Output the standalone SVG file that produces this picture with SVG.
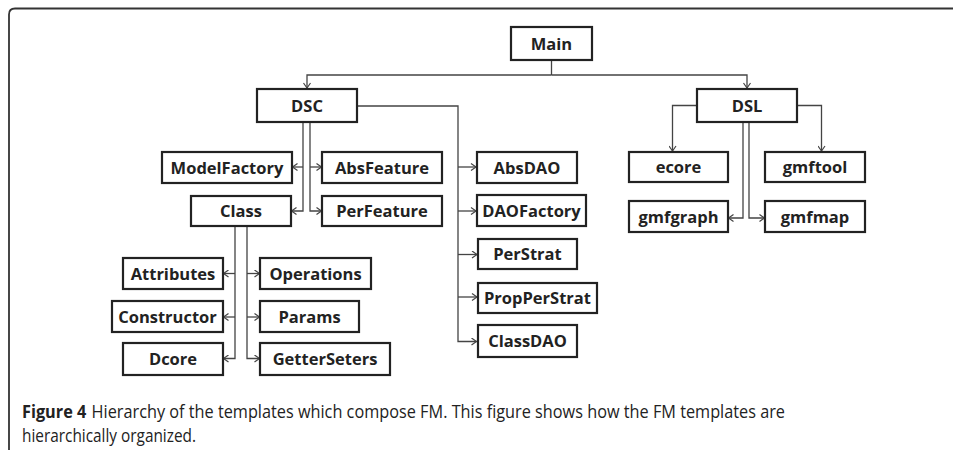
<svg xmlns="http://www.w3.org/2000/svg" width="953" height="450" viewBox="0 0 953 450">
  <style>
    .box rect { fill: #fff; stroke: #222; stroke-width: 2.2; }
    .box text { font-family: "Open Sans", "Liberation Sans", sans-serif; font-weight: 700; font-size: 16.5px; fill: #222; text-anchor: middle; }
    .wire { fill: none; stroke: #444; stroke-width: 1.3; }
    .cap { font-family: "Open Sans", "Liberation Sans", sans-serif; font-size: 18.5px; fill: #222; }
  </style>
  <defs>
    <marker id="arr" markerWidth="8" markerHeight="8" refX="6" refY="4" orient="auto" markerUnits="userSpaceOnUse">
      <path d="M1,0.5 L6,4 L1,7.5" fill="none" stroke="#444" stroke-width="1.2"/>
    </marker>
  </defs>
  <rect width="953" height="450" fill="#fff"/>
  <!-- frame -->
  <path d="M953,8.5 H15 Q9,8.5 9,14.5 V450" fill="none" stroke="#333" stroke-width="1.8"/>

  <g id="connectors" class="wire">
    <path d="M551.5,60 V75"/>
    <path d="M551.5,75 H307 V88" marker-end="url(#arr)"/>
    <path d="M551.5,75 H747 V88" marker-end="url(#arr)"/>
    <!-- DSC outer trunk -->
    <path d="M357,106 H458 V341.5 H476.5" marker-end="url(#arr)"/>
    <path d="M458,167 H476" marker-end="url(#arr)"/>
    <path d="M458,211 H476" marker-end="url(#arr)"/>
    <path d="M458,254.5 H477" marker-end="url(#arr)"/>
    <path d="M458,297 H477" marker-end="url(#arr)"/>
    <!-- DSC inner pair -->
    <path d="M303,122 V211 H291.5" marker-end="url(#arr)"/>
    <path d="M303,167 H292.5" marker-end="url(#arr)"/>
    <path d="M310,122 V211 H321.5" marker-end="url(#arr)"/>
    <path d="M310,167 H321.5" marker-end="url(#arr)"/>
    <!-- Class pair -->
    <path d="M235,226 V358.5 H223.5" marker-end="url(#arr)"/>
    <path d="M235,273.5 H223.5" marker-end="url(#arr)"/>
    <path d="M235,317 H223.5" marker-end="url(#arr)"/>
    <path d="M247,226 V358.5 H259.5" marker-end="url(#arr)"/>
    <path d="M247,273.5 H259.5" marker-end="url(#arr)"/>
    <path d="M247,317 H259.5" marker-end="url(#arr)"/>
    <!-- DSL branches -->
    <path d="M697,105.5 H672.5 V151" marker-end="url(#arr)"/>
    <path d="M797,105.5 H821.5 V151" marker-end="url(#arr)"/>
    <path d="M743,122 V218 H728.5" marker-end="url(#arr)"/>
    <path d="M749,122 V218 H764.5" marker-end="url(#arr)"/>
  </g>

  <g id="main" class="box"><rect x="511" y="27" width="81" height="33"/><text x="551.5" y="49.5">Main</text></g>
  <g id="dsc" class="box"><rect x="257" y="89" width="100" height="33"/><text x="307" y="111.5">DSC</text></g>
  <g id="dsl" class="box"><rect x="697" y="89" width="100" height="33"/><text x="747" y="111.5">DSL</text></g>

  <g id="modelfactory" class="box"><rect x="162" y="152" width="130" height="31"/><text x="227" y="173.5">ModelFactory</text></g>
  <g id="absfeature" class="box"><rect x="322" y="152" width="120" height="31"/><text x="382" y="173.5">AbsFeature</text></g>
  <g id="class" class="box"><rect x="191" y="196" width="100" height="30"/><text x="241" y="217">Class</text></g>
  <g id="perfeature" class="box"><rect x="322" y="196" width="120" height="30"/><text x="382" y="217">PerFeature</text></g>

  <g id="absdao" class="box"><rect x="477" y="152" width="100" height="31"/><text x="527" y="173.5">AbsDAO</text></g>
  <g id="daofactory" class="box"><rect x="477" y="195" width="109" height="31"/><text x="531.5" y="216.5">DAOFactory</text></g>
  <g id="perstrat" class="box"><rect x="478" y="239" width="99" height="30"/><text x="527.5" y="260">PerStrat</text></g>
  <g id="propperstrat" class="box"><rect x="478" y="283" width="119" height="30"/><text x="537.5" y="304">PropPerStrat</text></g>
  <g id="classdao" class="box"><rect x="478" y="325" width="99" height="32"/><text x="527.5" y="347">ClassDAO</text></g>

  <g id="attributes" class="box"><rect x="123" y="258" width="100" height="31"/><text x="173" y="279.5">Attributes</text></g>
  <g id="operations" class="box"><rect x="260" y="258" width="111" height="31"/><text x="315.5" y="279.5">Operations</text></g>
  <g id="constructor" class="box"><rect x="112" y="301" width="111" height="31"/><text x="167.5" y="322.5">Constructor</text></g>
  <g id="params" class="box"><rect x="260" y="301" width="99" height="31"/><text x="309.5" y="322.5">Params</text></g>
  <g id="dcore" class="box"><rect x="123" y="343" width="100" height="32"/><text x="173" y="365">Dcore</text></g>
  <g id="gettersetters" class="box"><rect x="260" y="343" width="130" height="32"/><text x="325" y="365">GetterSeters</text></g>

  <g id="ecore" class="box"><rect x="629" y="152" width="99" height="30"/><text x="678.5" y="173">ecore</text></g>
  <g id="gmftool" class="box"><rect x="765" y="152" width="100" height="30"/><text x="815" y="173">gmftool</text></g>
  <g id="gmfgraph" class="box"><rect x="629" y="201" width="99" height="31"/><text x="678.5" y="222.5">gmfgraph</text></g>
  <g id="gmfmap" class="box"><rect x="765" y="201" width="100" height="31"/><text x="815" y="222.5">gmfmap</text></g>

  <!-- caption, condensed to the column width -->
  <text class="cap" x="22" y="418" textLength="763" lengthAdjust="spacingAndGlyphs"><tspan font-weight="700">Figure 4</tspan><tspan dx="6">Hierarchy of the templates which compose FM. This figure shows how the FM templates are</tspan></text>
  <text class="cap" x="22" y="442" textLength="174" lengthAdjust="spacingAndGlyphs">hierarchically organized.</text>
</svg>
